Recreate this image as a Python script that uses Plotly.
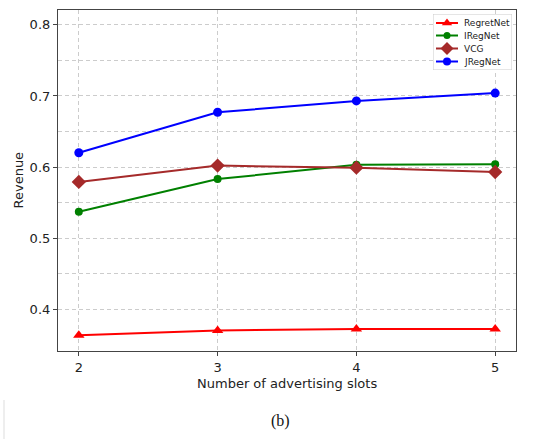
import plotly.graph_objects as go

slots = [2, 3, 4, 5]
regretnet = [0.363, 0.370, 0.372, 0.372]
iregnet = [0.537, 0.583, 0.603, 0.604]
vcg = [0.579, 0.602, 0.599, 0.593]
jregnet = [0.620, 0.677, 0.693, 0.704]

series = [
    ("RegretNet", regretnet, "red", "triangle-up", 10),
    ("IRegNet", iregnet, "green", "circle", 8),
    ("VCG", vcg, "brown", "diamond", 11),
    ("JRegNet", jregnet, "blue", "circle", 9),
]

font = "DejaVu Sans"
fig = go.Figure()
for name, vals, col, sym, sz in series:
    fig.add_trace(go.Scatter(
        x=slots, y=vals, name=name, mode="lines+markers",
        line=dict(color=col, width=2),
        marker=dict(color=col, symbol=sym, size=sz),
        showlegend=False,
    ))

# custom compact legend drawn on an overlay axis (box coordinates in px-like units)
L, R, T, B = 433, 512, 14, 70
W, H = 458, 341
rows = [9, 21.5, 34.5, 47.5]
shapes = [
    dict(type="rect", xref="x2", yref="y2", x0=0, x1=R - L, y0=0, y1=B - T,
         line=dict(color="#cccccc", width=1), fillcolor="white", layer="below"),
]
annotations = []
for (name, vals, col, sym, sz), ry in zip(series, rows):
    fig.add_trace(go.Scatter(
        x=[3, 25], y=[ry, ry], mode="lines", xaxis="x2", yaxis="y2",
        line=dict(color=col, width=2), showlegend=False, hoverinfo="skip",
    ))
    fig.add_trace(go.Scatter(
        x=[14], y=[ry], mode="markers", xaxis="x2", yaxis="y2",
        marker=dict(color=col, symbol=sym, size=sz - 1), showlegend=False,
        hoverinfo="skip",
    ))
    annotations.append(dict(text=name, xref="x2", yref="y2", x=29, y=ry,
                            xanchor="left", yanchor="middle", showarrow=False,
                            font=dict(size=9, family=font, color="#222")))

grid = dict(gridcolor="#cccccc", griddash="4px,3px", gridwidth=1)
fig.update_layout(
    width=538, height=439,
    margin=dict(l=58, r=22, t=10, b=88),
    paper_bgcolor="white", plot_bgcolor="white",
    font=dict(family=font, size=13, color="#222"),
    xaxis=dict(
        range=[1.85, 5.15], tickmode="array", tickvals=slots,
        ticktext=[str(s) for s in slots],
        showline=True, mirror=True, linecolor="#444", linewidth=1.2,
        ticks="outside", ticklen=4, tickcolor="#444",
        showgrid=True, zeroline=False, **grid,
    ),
    yaxis=dict(
        range=[0.341, 0.821], tick0=0.4, dtick=0.1, tickformat=".1f",
        showline=True, mirror=True, linecolor="#444", linewidth=1.2,
        ticks="outside", ticklen=4, tickcolor="#444",
        showgrid=True, zeroline=False, **grid,
        minor=dict(tickmode="array", tickvals=[0.45, 0.55, 0.65, 0.75],
                   showgrid=True, ticks="", **grid),
    ),
    xaxis2=dict(domain=[(L - 58) / W, (R - 58) / W], range=[0, R - L],
                anchor="y2", visible=False, fixedrange=True),
    yaxis2=dict(domain=[1 - (B - 10) / H, 1 - (T - 10) / H], range=[B - T, 0],
                anchor="x2", visible=False, fixedrange=True),
    annotations=annotations + [
        dict(text="Number of advertising slots", xref="paper", yref="paper",
             x=0.5, y=-(384 - 351) / H, xanchor="center", yanchor="middle",
             showarrow=False, font=dict(size=13, family=font, color="#222")),
        dict(text="Revenue", xref="paper", yref="paper",
             x=(18 - 58) / W, y=0.5, textangle=-90,
             xanchor="center", yanchor="middle",
             showarrow=False, font=dict(size=13, family=font, color="#222")),
        dict(text="(b)", xref="paper", yref="paper",
             x=(280 - 58) / W, y=-(421 - 351) / H,
             xanchor="center", yanchor="middle", showarrow=False,
             font=dict(size=16, family="Liberation Serif", color="#111")),
    ],
    shapes=shapes + [
        dict(type="line", xref="paper", yref="paper",
             x0=(4 - 58) / W, x1=(4 - 58) / W,
             y0=-(400 - 351) / H, y1=-(439 - 351) / H,
             line=dict(color="#dddddd", width=1)),
    ],
)

fig.write_html("out.html")
